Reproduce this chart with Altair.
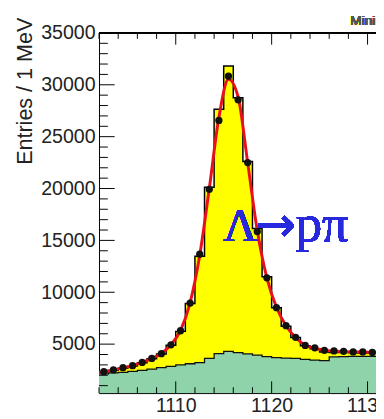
import altair as alt
import pandas as pd

# ---- data ----
bin_lo = [1102, 1103, 1104, 1105, 1106, 1107, 1108, 1109, 1110, 1111,
          1112, 1113, 1114, 1115, 1116, 1117, 1118, 1119, 1120, 1121,
          1122, 1123, 1124, 1125, 1126, 1127, 1128, 1129, 1130]
data_vals = [2360, 2510, 2730, 2920, 3240, 3620, 4080, 4930, 6290, 8960,
             13670, 19920, 26560, 30830, 28550, 22500, 15850, 11390, 8510, 6780,
             5660, 4870, 4650, 4400, 4340, 4310, 4250, 4250, 4200]
mc_total = [2320, 2470, 2680, 2880, 3200, 3590, 4050, 4890, 6230, 8910,
            13470, 20120, 27650, 31820, 28750, 22600, 16150, 11490, 8510, 6730,
            5640, 4850, 4550, 4250, 4200, 4200, 4170, 4150, 4130]
bkg = [2140, 2220, 2270, 2370, 2460, 2590, 2730, 2860, 2990, 3110,
       3210, 3620, 4080, 4310, 4180, 4050, 3930, 3800, 3700, 3660,
       3620, 3540, 3460, 3400, 3770, 3790, 3810, 3830, 3830]
fit_x = [1102.0, 1102.5, 1103.5, 1104.5, 1105.5, 1106.5, 1107.5, 1108.5, 1109.5,
         1110.5, 1111.5, 1112.5, 1113.5, 1114.5, 1115.5, 1116.5, 1117.5, 1118.5,
         1119.5, 1120.5, 1121.5, 1122.5, 1123.5, 1124.5, 1125.5, 1126.5, 1127.5,
         1128.5, 1129.5, 1130.5, 1131.0]
fit_y = [2270, 2350, 2500, 2710, 2920, 3230, 3620, 4100, 4940, 6330,
         9010, 13570, 20020, 26860, 30530, 28840, 22500, 15950, 11390, 8560,
         6780, 5640, 4890, 4600, 4400, 4330, 4290, 4250, 4230, 4200, 4190]
y_labels = [5000, 10000, 15000, 20000, 25000, 30000, 35000]
x_labels = [1110, 1120, 1130]
y_minor = [v for v in range(1000, 35000, 1000) if v % 5000 != 0]
x_minor = [v for v in range(1102, 1132, 2) if v % 10 != 0]

# ---- tables ----
edges = bin_lo + [bin_lo[-1] + 1]
hist = pd.DataFrame({
    "x": edges,
    "mc": mc_total + [mc_total[-1]],
    "bkg": bkg + [bkg[-1]],
})
pts = pd.DataFrame({"x": [b + 0.5 for b in bin_lo], "y": data_vals})
fit = pd.DataFrame({"x": fit_x, "y": fit_y})
ymaj = pd.DataFrame({"y": y_labels})
ymin = pd.DataFrame({"y": y_minor})
xmaj = pd.DataFrame({"x": x_labels})
xmin = pd.DataFrame({"x": x_minor})

W, H = 283, 368
xscale = alt.Scale(domain=[1102, 1130.88], nice=False, zero=False)
yscale = alt.Scale(domain=[280, 35000], nice=False, zero=False)
xaxis = alt.Axis(values=x_labels, format="d", ticks=False, grid=False, title=None,
                 labelPadding=3)
yaxis = alt.Axis(values=y_labels, format="d", ticks=False, grid=False,
                 title="Entries / 1 MeV", titleAnchor="end", titleAlign="right",
                 titleAngle=-90, titleBaseline="middle", titleX=-76, titleY=-16,
                 labelPadding=4)


def X(f):
    return alt.X(f, type="quantitative", scale=xscale, axis=xaxis)


def Y(f):
    return alt.Y(f, type="quantitative", scale=yscale, axis=yaxis)


yellow = alt.Chart(hist).mark_area(interpolate="step-after", color="#ffff00", clip=True).encode(
    x=X("x"), y=Y("mc"))
yellow_line = alt.Chart(hist).mark_line(interpolate="step-after", color="#000000",
                                        strokeWidth=1.5, clip=True).encode(x=X("x"), y=Y("mc"))
green = alt.Chart(hist).mark_area(interpolate="step-after", color="#8fd3aa", clip=True).encode(
    x=X("x"), y=Y("bkg"))
green_line = alt.Chart(hist).mark_line(interpolate="step-after", color="#111111",
                                       strokeWidth=1.3, clip=True).encode(x=X("x"), y=Y("bkg"))
fit_line = alt.Chart(fit).mark_line(interpolate="monotone", color="#e8101a",
                                    strokeWidth=3, clip=True).encode(x=X("x"), y=Y("y"))
points = alt.Chart(pts).mark_circle(size=55, color="#111111", opacity=1, clip=True).encode(
    x=X("x"), y=Y("y"))

# frame ticks (pointing inwards)
ytick_major = alt.Chart(ymaj).mark_rule(color="#000", strokeWidth=1).encode(
    y=Y("y"), x=alt.value(0), x2=alt.value(16))
ytick_minor = alt.Chart(ymin).mark_rule(color="#000", strokeWidth=1).encode(
    y=Y("y"), x=alt.value(0), x2=alt.value(9))
xtick_major_b = alt.Chart(xmaj).mark_rule(color="#000", strokeWidth=1).encode(
    x=X("x"), y=alt.value(H), y2=alt.value(H - 12))
xtick_minor_b = alt.Chart(xmin).mark_rule(color="#000", strokeWidth=1).encode(
    x=X("x"), y=alt.value(H), y2=alt.value(H - 6))
xtick_major_t = alt.Chart(xmaj).mark_rule(color="#000", strokeWidth=1).encode(
    x=X("x"), y=alt.value(0), y2=alt.value(12))
xtick_minor_t = alt.Chart(xmin).mark_rule(color="#000", strokeWidth=1).encode(
    x=X("x"), y=alt.value(0), y2=alt.value(6))
top_frame = alt.Chart(ymaj).mark_rule(color="#000", strokeWidth=1).encode(
    y=alt.value(0), x=alt.value(0), x2=alt.value(W))

lam = alt.Chart(pts).mark_text(font="Liberation Serif", fontSize=48, color="#2828dc",
                               align="left", baseline="alphabetic").encode(
    x=alt.datum(1114.96), y=alt.datum(14930), text=alt.value("Λ"))
arrow = alt.Chart(pts).mark_text(font="DejaVu Sans", fontSize=50, color="#2828dc",
                                 align="left", baseline="alphabetic").encode(
    x=alt.datum(1118.3), y=alt.datum(14930), text=alt.value("→"))
ppi = alt.Chart(pts).mark_text(font="Liberation Serif", fontSize=54, color="#2828dc",
                               align="left", baseline="alphabetic").encode(
    x=alt.datum(1122.5), y=alt.datum(14930), text=alt.value("pπ"))
corner = alt.Chart(pts).mark_text(font="Liberation Sans", fontSize=14, color="#555555",
                                  align="left", baseline="middle").encode(
    x=alt.datum(1128.2), y=alt.datum(36130), text=alt.value("Minimum Bias"))

chart = alt.layer(
    yellow, green, yellow_line, green_line, fit_line, points,
    ytick_major, ytick_minor, xtick_major_b, xtick_minor_b, xtick_major_t, xtick_minor_t,
    top_frame, lam, arrow, ppi, corner,
).properties(
    width=W, height=H,
    autosize=alt.AutoSizeParams(type="none"),
    padding={"left": 93, "top": 21, "right": 0, "bottom": 22},
).configure_view(stroke=None).configure_axis(
    labelFont="Liberation Sans", labelFontSize=20, labelColor="#222222",
    titleFont="Liberation Sans", titleFontSize=22, titleFontWeight="normal",
    titleColor="#222222", domainColor="#000000", domainWidth=1,
)

chart.save("out.html", embed_options={"renderer": "svg", "actions": False})
